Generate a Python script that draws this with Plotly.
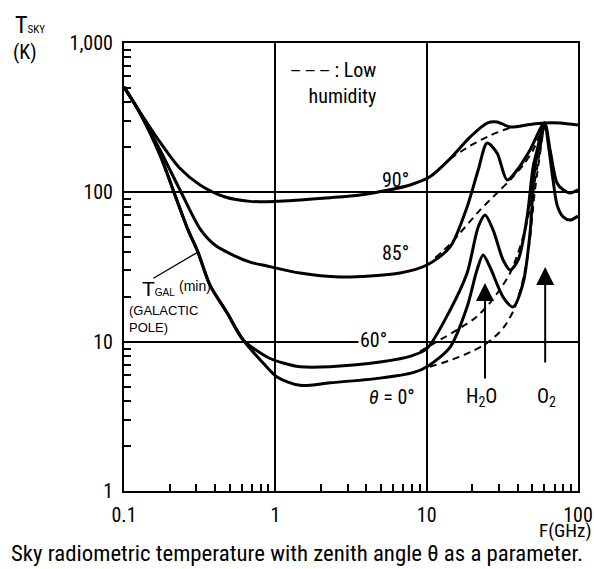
import math
import plotly.graph_objects as go

# ---- data (frequency in GHz, sky temperature in K) ----
f_90 = [0.1, 0.1275, 0.173, 0.234, 0.318, 0.466, 0.68, 1.0, 1.46, 2.3, 3.63, 5.73, 7.77,
        10.5, 14.3, 19.4, 25.1, 29.2, 35.6, 48.2, 60, 76, 100]
T_90 = [507, 345, 217, 145, 112, 93, 87, 87, 89, 92, 96, 104, 112,
        127, 168, 235, 291, 296, 274, 285, 291, 291, 282]

f_85 = [0.1, 0.1275, 0.173, 0.234, 0.318, 0.399, 0.525, 0.681, 0.881, 1.456, 2.68, 4.23, 6.67,
        10.06, 14.3, 18.5, 21.9, 25.1, 29.2, 34.0, 39.6, 48.2, 60, 65.4, 72.8, 79.8, 88.7, 100]
T_85 = [507, 340, 192, 104, 57, 44.4, 38.0, 34.1, 32.1, 28.8, 27.1, 27.5, 28.8,
        32.6, 43.1, 79.8, 141, 214, 183, 121, 141, 192, 291, 192, 115, 104, 99, 104]

f_60 = [0.1, 0.1275, 0.173, 0.217, 0.265, 0.308, 0.370, 0.480, 0.612, 0.881, 1.124, 1.456, 2.3,
        4.92, 8.13, 10.06, 14.3, 18.5, 21.9, 24.3, 27.5, 32.0, 35.6, 40.2, 46.1, 50.5, 53.7, 60,
        64.4, 68.4, 72.8, 79.8, 88.7, 100]
T_60 = [507, 340, 178, 96, 56, 39.8, 23.9, 15.6, 10.3, 7.9, 7.2, 6.8, 6.8,
        7.3, 8.1, 9.0, 16.3, 28.8, 58.6, 70.5, 55.9, 35.2, 30.2, 35.2, 68.4, 148, 192, 291,
        192, 121, 82, 68.4, 65.2, 69.3]

f_0 = [0.1, 0.1275, 0.173, 0.217, 0.265, 0.308, 0.370, 0.480, 0.612, 0.830, 1.026, 1.456, 2.3,
       4.92, 8.13, 10.06, 14.3, 18.5, 21.5, 23.6, 26.2, 32.0, 37.2, 43.4, 48.2, 52.0, 60]
T_0 = [507, 340, 178, 96, 56, 39.8, 23.9, 15.6, 10.3, 7.2, 5.8, 5.1, 5.3,
       5.7, 6.2, 6.8, 9.2, 17.1, 30.2, 38.0, 31.6, 19.9, 17.1, 24.7, 53.4, 148, 291]

# low-humidity (dashed) curves
fd_90 = [14.3, 19.4, 26.2, 35.6, 48.2, 60]
Td_90 = [168, 205, 240, 270, 284, 291]
fd_85 = [11.4, 14.3, 16.6, 22.5, 29.2, 35.6, 43.4, 50.5, 60]
Td_85 = [36.5, 45, 53.4, 76, 99, 121, 152, 192, 291]
fd_60 = [9.04, 12.3, 15.9, 20.9, 26.2, 35.6, 44.7, 52.0, 60]
Td_60 = [8.6, 10.3, 12.0, 14.4, 18.2, 28.8, 55.9, 121, 291]
fd_0 = [10.5, 14.3, 19.4, 25.1, 32.0, 38.4, 46.1, 52.0, 60]
Td_0 = [6.8, 7.5, 8.5, 9.8, 12.3, 17.1, 35.2, 104, 291]

x_tickvals = [0.1, 1, 10, 100]
x_ticktext = ["0.1", "1", "10", "100"]
y_tickvals = [1, 10, 100, 1000]
y_ticktext = ["1", "10", "100", "1,000"]
x_minor = [m * d for d in (0.1, 1, 10) for m in range(2, 10)]
y_minor = [m * d for d in (1, 10, 100) for m in range(2, 10)]

FONT = "Liberation Sans Narrow, Arial Narrow, Roboto Condensed, Liberation Sans, sans-serif"
SMALLFONT = "Liberation Sans, Arial, sans-serif"
L = math.log10

fig = go.Figure()

def add(f, T, dashed=False):
    fig.add_trace(go.Scatter(
        x=f, y=T, mode="lines", hoverinfo="skip",
        line=dict(color="black", width=2 if dashed else 3,
                  dash="7px,5px" if dashed else "solid",
                  shape="spline", smoothing=0.8)))

for f, T in [(fd_90, Td_90), (fd_85, Td_85), (fd_60, Td_60), (fd_0, Td_0)]:
    add(f, T, dashed=True)
for f, T in [(f_90, T_90), (f_85, T_85), (f_60, T_60), (f_0, T_0)]:
    add(f, T)

axis_common = dict(
    type="log", showline=True, mirror=True, linecolor="black", linewidth=2,
    showgrid=True, gridcolor="black", gridwidth=1.5, ticks="", automargin=False,
    tickfont=dict(family=FONT, size=20, color="black"), zeroline=False,
    ticklabelstandoff=5,
)

fig.update_xaxes(range=[-1, 2], tickvals=x_tickvals, ticktext=x_ticktext,
                 minor=dict(tickvals=x_minor, ticks="inside", ticklen=7, tickwidth=1.5,
                            tickcolor="black", showgrid=False),
                 **axis_common)
fig.update_yaxes(range=[0, 3], tickvals=y_tickvals, ticktext=y_ticktext,
                 minor=dict(tickvals=y_minor, ticks="inside", ticklen=7, tickwidth=1.5,
                            tickcolor="black", showgrid=False),
                 **axis_common)

ann = []
def text(x, y, s, size=20, xanchor="center", yanchor="middle", font=FONT, **kw):
    ann.append(dict(x=x, y=y, text=s, showarrow=False, xanchor=xanchor, yanchor=yanchor,
                    font=dict(family=font, size=size, color="black"), **kw))

# curve labels (data coordinates, log10 for log axes)
text(L(6.18), L(121), "90°")
text(L(6.18), L(39.2), "85°")
text(L(4.43), L(10.3), "60°", bgcolor="white", borderpad=1)
text(L(5.9), L(4.26), "<i>θ</i> = 0°")
text(L(0.127), L(22.6), "T<span style='font-size:10px'>GAL</span>",
     size=21, xanchor="left", font=SMALLFONT)
text(L(0.223), L(23.6), "(min)", size=14, xanchor="left", font=SMALLFONT)
text(L(0.104), L(14.1), "(GALACTIC<br>POLE)", size=13, xanchor="left", font=SMALLFONT,
     align="left")
text(L(4.78), L(537), "<span style='font-size:16px'>— — —</span> : Low<br>humidity",
     xanchor="right", align="right")
text(L(23.2), L(4.26), "H<sub>2</sub>O")
text(L(61.5), L(4.26), "O<sub>2</sub>")

# pointer line for T_GAL
ann.append(dict(x=L(0.308), y=L(39.8), ax=-46, ay=27, text="", showarrow=True,
                arrowhead=0, arrowwidth=1.3, arrowcolor="black", standoff=0))
# absorption arrows
for fx, fy in [(24.3, 24.7), (60.7, 31.6)]:
    ann.append(dict(x=L(fx), y=L(fy), ax=0, ay=97, text="", showarrow=True,
                    arrowhead=2, arrowsize=1.8, arrowwidth=2, arrowcolor="black",
                    standoff=0))

# axis titles and caption (paper coordinates)
ann.append(dict(xref="paper", yref="paper", x=-0.245, y=1.040, xanchor="left",
                yanchor="middle", showarrow=False,
                text="T<span style='font-size:11px'>SKY</span>",
                font=dict(family=FONT, size=24, color="black")))
ann.append(dict(xref="paper", yref="paper", x=-0.248, y=0.980, xanchor="left",
                yanchor="middle", showarrow=False, text="(K)",
                font=dict(family=FONT, size=20, color="black")))
ann.append(dict(xref="paper", yref="paper", x=1.032, y=-0.089, xanchor="right",
                yanchor="middle", showarrow=False, text="F(GHz)", borderpad=0,
                font=dict(family=FONT, size=19, color="black")))
ann.append(dict(xref="paper", yref="paper", x=0.381, y=-0.1395, xanchor="center",
                yanchor="middle", showarrow=False, borderpad=0,
                text="Sky radiometric temperature with zenith angle θ as a parameter.",
                font=dict(family=FONT, size=22.8, color="black")))

fig.update_layout(
    width=594, height=569, margin=dict(l=124, r=16, t=43, b=78, autoexpand=False),
    paper_bgcolor="white", plot_bgcolor="white", showlegend=False,
    hovermode=False, annotations=ann,
)

# remove the browser's default 8px page margin so the figure fills the window exactly
fig.write_html("out.html", config={"displayModeBar": False},
               post_script="document.body.style.margin='0px';")
